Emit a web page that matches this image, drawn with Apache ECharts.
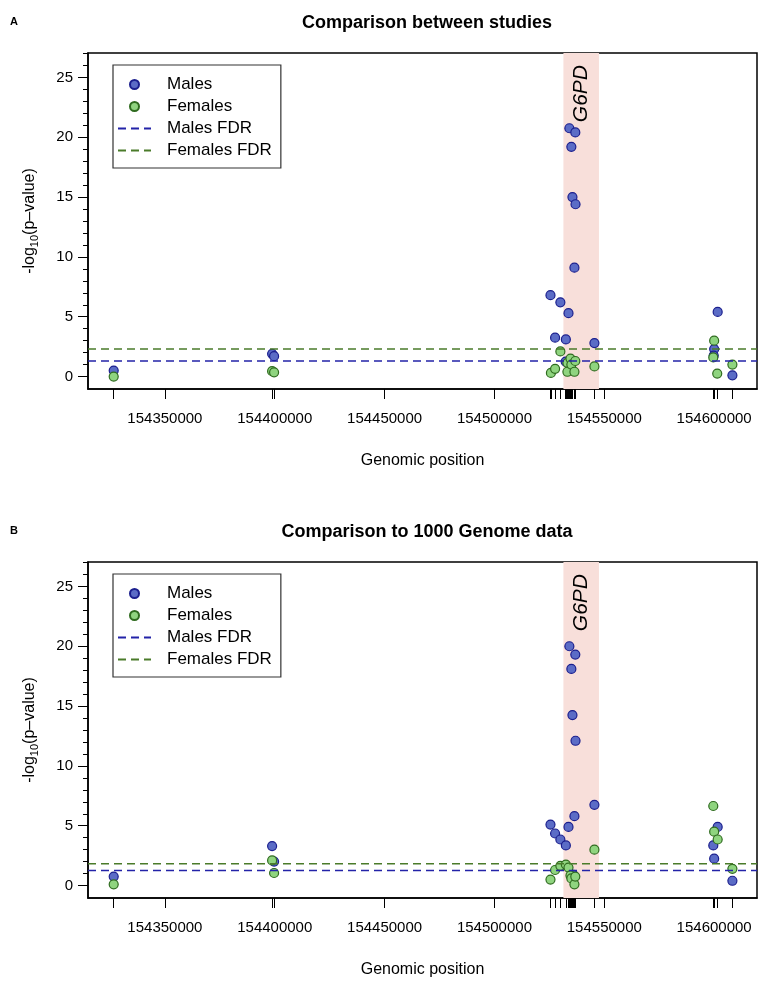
<!DOCTYPE html>
<html>
<head>
<meta charset="utf-8">
<title>G6PD region</title>
<script src="https://cdn.jsdelivr.net/npm/echarts@6.0.0/dist/echarts.min.js"></script>
<style>
  html, body { margin: 0; padding: 0; background: #fff; }
  #main { width: 760px; height: 985px; }
</style>
</head>
<body>
<div id="main"></div>
<script>
// ---- data: [genomic position, -log10(p)] ----
var malesA = [
  [154326700, 0.5], [154398800, 1.9], [154399700, 1.7],
  [154525500, 6.8], [154527600, 3.25], [154530000, 6.2], [154532500, 3.1],
  [154532400, 1.25], [154533700, 5.3], [154534100, 20.75], [154535000, 19.2],
  [154535500, 15.0], [154536400, 9.1], [154536800, 20.4], [154536900, 14.4],
  [154545500, 2.8],
  [154601600, 5.4], [154600000, 2.3], [154599800, 1.75], [154608300, 0.1]
];
var femalesA = [
  [154326700, 0.0], [154398800, 0.45], [154399700, 0.35],
  [154525700, 0.3], [154527600, 0.65], [154530000, 2.1], [154533200, 1.15],
  [154533200, 0.4], [154534600, 1.5], [154535000, 1.0], [154536400, 0.4],
  [154536800, 1.3], [154545500, 0.85],
  [154600000, 3.0], [154599600, 1.6], [154601400, 0.25], [154608300, 1.0]
];
var malesB = [
  [154326700, 0.75], [154398800, 3.3], [154399700, 2.0],
  [154525500, 5.1], [154527600, 4.35], [154530000, 3.85], [154532500, 3.35],
  [154533700, 4.9], [154534100, 20.0], [154535000, 18.1], [154535500, 14.25],
  [154536400, 5.8], [154536800, 19.3], [154536900, 12.1], [154535900, 0.9],
  [154545500, 6.75],
  [154601600, 4.9], [154599600, 3.35], [154600000, 2.25], [154608300, 0.4]
];
var femalesB = [
  [154326700, 0.1], [154398800, 2.1], [154399700, 1.05],
  [154525500, 0.5], [154527600, 1.3], [154530000, 1.65], [154532500, 1.75],
  [154533700, 1.5], [154534600, 0.85], [154535000, 0.6], [154536400, 0.1],
  [154536800, 0.75], [154545500, 3.0],
  [154599600, 6.65], [154600000, 4.5], [154601600, 3.85], [154608300, 1.4]
];
var fdrA = [1.3, 2.3];   // males, females
var fdrB = [1.25, 1.83];
var g6pd = [154531391, 154547572];

var xTicks = [154350000, 154400000, 154450000, 154500000, 154550000, 154600000];
var yTicks = [0, 5, 10, 15, 20, 25];
var yMinor = [0, 1, 2, 3, 4, 5, 6, 7, 8, 9, 10, 11, 12, 13, 14, 15, 16, 17, 18, 19, 20, 21, 22, 23, 24, 25, 26, 27];
var titles = ['Comparison between studies', 'Comparison to 1000 Genome data'];
var tags = ['A', 'B'];
var names = ['Males', 'Females', 'Males FDR', 'Females FDR'];

var xMin = 154315000, xMax = 154619500;
var yMin = -1.04, yMax = 27.04;
var FONT = 'Liberation Sans, Arial, Helvetica, sans-serif';

var chart = echarts.init(document.getElementById('main'));

var option = {
  backgroundColor: '#fff',
  animation: false,
  title: [], grid: [], xAxis: [], yAxis: [], legend: [], series: []
};

function addPanel(i, top, males, females, fdr) {
  var ax = i * 2;
  option.grid.push({
    left: 88, top: top, width: 669, height: 336,
    show: true, borderColor: '#000', borderWidth: 1.5, backgroundColor: 'transparent'
  });
  option.title.push({
    text: titles[i], left: 422, top: top - 44, textAlign: 'center',
    textStyle: { fontFamily: FONT, fontSize: 18, fontWeight: 'bold', color: '#000' }
  });
  option.title.push({
    text: tags[i], left: 5, top: top - 42,
    textStyle: { fontFamily: FONT, fontSize: 11, fontWeight: 'bold', color: '#000' }
  });

  // rug positions from the data
  var rug = [];
  males.concat(females).forEach(function (d) {
    if (rug.indexOf(d[0]) < 0) rug.push(d[0]);
  });

  option.xAxis.push({
    type: 'value', gridIndex: i, min: xMin, max: xMax, position: 'bottom',
    name: 'Genomic position', nameLocation: 'middle', nameGap: 64,
    nameTextStyle: { fontFamily: FONT, fontSize: 16, color: '#000' },
    axisLine: { show: true, onZero: false, lineStyle: { color: '#000', width: 1.5 } },
    axisTick: { show: true, length: 10, customValues: xTicks, lineStyle: { color: '#000', width: 1 } },
    axisLabel: {
      show: true, customValues: xTicks, margin: 22, fontFamily: FONT, fontSize: 15, color: '#000',
      formatter: function (v) { return String(v); }
    },
    splitLine: { show: false }
  });
  option.xAxis.push({
    type: 'value', gridIndex: i, min: xMin, max: xMax, position: 'bottom',
    axisLine: { show: false, onZero: false },
    axisTick: { show: true, length: 10, customValues: rug, lineStyle: { color: '#000', width: 1 } },
    axisLabel: { show: false },
    splitLine: { show: false }
  });
  option.yAxis.push({
    type: 'value', gridIndex: i, min: yMin, max: yMax, position: 'left',
    name: '-log{s|10}(p\u2013value)', nameLocation: 'middle', nameGap: 48,
    nameTextStyle: {
      fontFamily: FONT, fontSize: 16, color: '#000', lineHeight: 20,
      rich: { s: { fontFamily: FONT, fontSize: 11, lineHeight: 11, verticalAlign: 'bottom', color: '#000' } }
    },
    axisLine: { show: true, onZero: false, lineStyle: { color: '#000', width: 1.5 } },
    axisTick: { show: true, length: 10, customValues: yTicks, lineStyle: { color: '#000', width: 1 } },
    axisLabel: { show: true, customValues: yTicks, margin: 15, fontFamily: FONT, fontSize: 15, color: '#000' },
    splitLine: { show: false }
  });
  option.yAxis.push({
    type: 'value', gridIndex: i, min: yMin, max: yMax, position: 'left',
    axisLine: { show: false, onZero: false },
    axisTick: { show: true, length: 5, customValues: yMinor, lineStyle: { color: '#000', width: 1 } },
    axisLabel: { show: false },
    splitLine: { show: false }
  });

  option.legend.push({
    data: names, orient: 'vertical', left: 113, top: top + 12,
    padding: [11, 9, 9, 4], itemGap: 5, itemWidth: 33, itemHeight: 9,
    borderColor: '#333', borderWidth: 1.2, backgroundColor: '#fff',
    selectedMode: false,
    textStyle: { fontFamily: FONT, fontSize: 17, color: '#000', lineHeight: 17, padding: [0, 0, 0, 11] }
  });

  // G6PD band + label
  option.series.push({
    name: 'G6PD', type: 'line', xAxisIndex: ax, yAxisIndex: ax, data: [], z: 1,
    silent: true,
    markArea: {
      silent: true,
      itemStyle: { color: '#f8dfda' },
      data: [[{ xAxis: g6pd[0] }, { xAxis: g6pd[1] }]]
    },
    markPoint: {
      symbol: 'circle', symbolSize: 1, silent: true,
      itemStyle: { color: 'rgba(0,0,0,0)' },
      label: {
        show: true, position: 'inside', rotate: 90, formatter: 'G6PD',
        fontFamily: FONT, fontSize: 21, fontStyle: 'italic', color: '#000'
      },
      data: [{ coord: [(g6pd[0] + g6pd[1]) / 2, 23.65] }]
    }
  });
  option.series.push({
    name: 'Males', type: 'scatter', xAxisIndex: ax, yAxisIndex: ax, data: males,
    symbol: 'circle', symbolSize: 9, z: 3,
    itemStyle: { color: '#5b6cc6', borderColor: '#1b1f8e', borderWidth: 1.2, opacity: 1 }
  });
  option.series.push({
    name: 'Females', type: 'scatter', xAxisIndex: ax, yAxisIndex: ax, data: females,
    symbol: 'circle', symbolSize: 9, z: 3,
    itemStyle: { color: '#8fd47f', borderColor: '#2f6b1f', borderWidth: 1.2, opacity: 1 }
  });
  option.series.push({
    name: 'Males FDR', type: 'line', xAxisIndex: ax, yAxisIndex: ax,
    data: [[xMin, fdr[0]], [xMax, fdr[0]]], symbol: 'none', showSymbol: false, z: 4,
    itemStyle: { color: 'rgba(0,0,0,0)', borderWidth: 0 },
    lineStyle: { color: '#2323a8', width: 1.5, type: [8, 5] }
  });
  option.series.push({
    name: 'Females FDR', type: 'line', xAxisIndex: ax, yAxisIndex: ax,
    data: [[xMin, fdr[1]], [xMax, fdr[1]]], symbol: 'none', showSymbol: false, z: 4,
    itemStyle: { color: 'rgba(0,0,0,0)', borderWidth: 0 },
    lineStyle: { color: '#4a7b2a', width: 1.5, type: [8, 5] }
  });
}

addPanel(0, 53, malesA, femalesA, fdrA);
addPanel(1, 562, malesB, femalesB, fdrB);

chart.setOption(option);
</script>
</body>
</html>
